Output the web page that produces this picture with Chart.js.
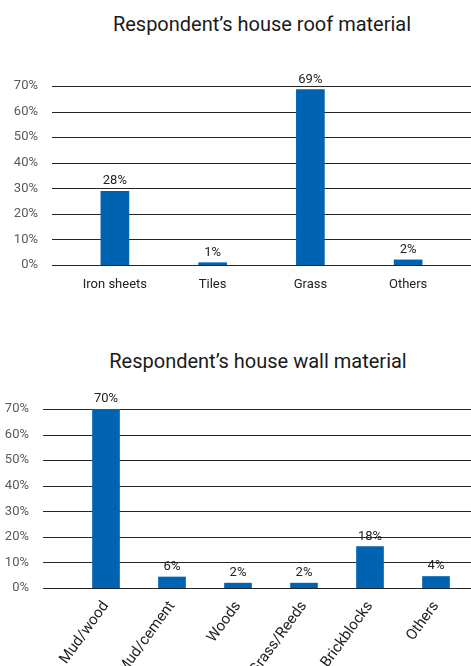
<!DOCTYPE html>
<html>
<head>
<meta charset="utf-8">
<title>House materials</title>
<script src="https://cdn.jsdelivr.net/npm/chart.js@4.4.1/dist/chart.umd.min.js"></script>
<style>
  body { margin: 0; width: 471px; height: 666px; overflow: hidden; background: #fff; position: relative; font-family: Roboto, sans-serif; }
  .title { position: absolute; width: 400px; text-align: center; font-size: 20px; line-height: 24px; color: #1a1a1a; }
  canvas { position: absolute; left: 0; }
</style>
</head>
<body>
<div class="title" style="left:62px; top:12px;">Respondent’s house roof material</div>
<canvas id="roofChart" width="471" height="310" style="top:0"></canvas>
<div class="title" style="left:58px; top:349px;">Respondent’s house wall material</div>
<canvas id="wallChart" width="471" height="360" style="top:320px"></canvas>
<script>
// Roof material
const roofCategories = ['Iron sheets', 'Tiles', 'Grass', 'Others'];
const roofValues = [28.8, 0.9, 68.6, 2.0];
const roofLabels = ['28%', '1%', '69%', '2%'];

// Wall material
const wallCategories = ['Mud/wood', 'Mud/cement', 'Woods', 'Grass/Reeds', 'Brickblocks', 'Others'];
const wallValues = [70, 4.3, 1.9, 1.9, 16.2, 4.5];
const wallLabels = ['70%', '6%', '2%', '2%', '18%', '4%'];

// y axis ticks (percent)
const yTicks = [0, 10, 20, 30, 40, 50, 60, 70];

const barColor = '#0063b1';

// horizontal grid lines that run past the plot area, like the original
const fullGrid = {
    id: 'fullGrid',
    beforeDatasetsDraw(chart, args, opts) {
        const y = chart.scales.y;
        const ctx = chart.ctx;
        ctx.save();
        ctx.strokeStyle = '#262626';
        ctx.lineWidth = 1;
        yTicks.forEach((v) => {
            const py = Math.round(y.getPixelForValue(v)) + 0.5;
            ctx.beginPath();
            ctx.moveTo(opts.startX, py);
            ctx.lineTo(chart.width, py);
            ctx.stroke();
        });
        ctx.restore();
    }
};

// value text above each bar
const valueLabels = {
    id: 'valueLabels',
    afterDatasetsDraw(chart, args, opts) {
        const ctx = chart.ctx;
        const meta = chart.getDatasetMeta(0);
        ctx.save();
        ctx.font = '13px Roboto';
        ctx.fillStyle = '#222';
        ctx.textAlign = 'center';
        ctx.textBaseline = 'alphabetic';
        meta.data.forEach((bar, i) => {
            ctx.fillText(opts.labels[i], bar.x, bar.y - 7);
        });
        ctx.restore();
    }
};

function makeChart(id, categories, values, labels, s) {
    const ctx = document.getElementById(id).getContext('2d');
    return new Chart(ctx, {
        type: 'bar',
        data: {
            labels: categories,
            datasets: [{
                data: values,
                backgroundColor: barColor,
                borderWidth: 0,
                barThickness: s.barWidth
            }]
        },
        options: {
            responsive: false,
            animation: false,
            layout: { padding: { top: s.top, right: s.right, bottom: 0, left: 0 } },
            scales: {
                x: {
                    grid: { display: false, drawTicks: false },
                    border: { display: false },
                    afterFit: (scale) => { scale.height = s.xHeight; },
                    ticks: {
                        color: '#222',
                        font: { family: 'Roboto', size: s.xFont },
                        padding: s.xPad,
                        autoSkip: false,
                        minRotation: s.rot,
                        maxRotation: s.rot
                    }
                },
                y: {
                    min: 0,
                    max: 70,
                    grid: { display: false, drawTicks: false },
                    border: { display: false },
                    afterFit: (scale) => { scale.width = s.yWidth; },
                    afterBuildTicks: (scale) => { scale.ticks = yTicks.map((v) => ({ value: v })); },
                    ticks: {
                        color: '#595959',
                        font: { family: 'Roboto', size: 13 },
                        padding: s.yPad,
                        callback: (v) => v + '%'
                    }
                }
            },
            plugins: {
                legend: { display: false },
                tooltip: { enabled: false },
                fullGrid: { startX: s.gridStart },
                valueLabels: { labels: labels }
            }
        },
        plugins: [fullGrid, valueLabels]
    });
}

makeChart('roofChart', roofCategories, roofValues, roofLabels, {
    top: 86, right: 14, yWidth: 66, yPad: 28, xHeight: 45, xPad: 12, xFont: 13, rot: 0, barWidth: 28, gridStart: 52
});

makeChart('wallChart', wallCategories, wallValues, wallLabels, {
    top: 89, right: 2, yWidth: 73, yPad: 44, xHeight: 92, xPad: 10, xFont: 15, rot: 54, barWidth: 27, gridStart: 43
});
</script>
</body>
</html>
